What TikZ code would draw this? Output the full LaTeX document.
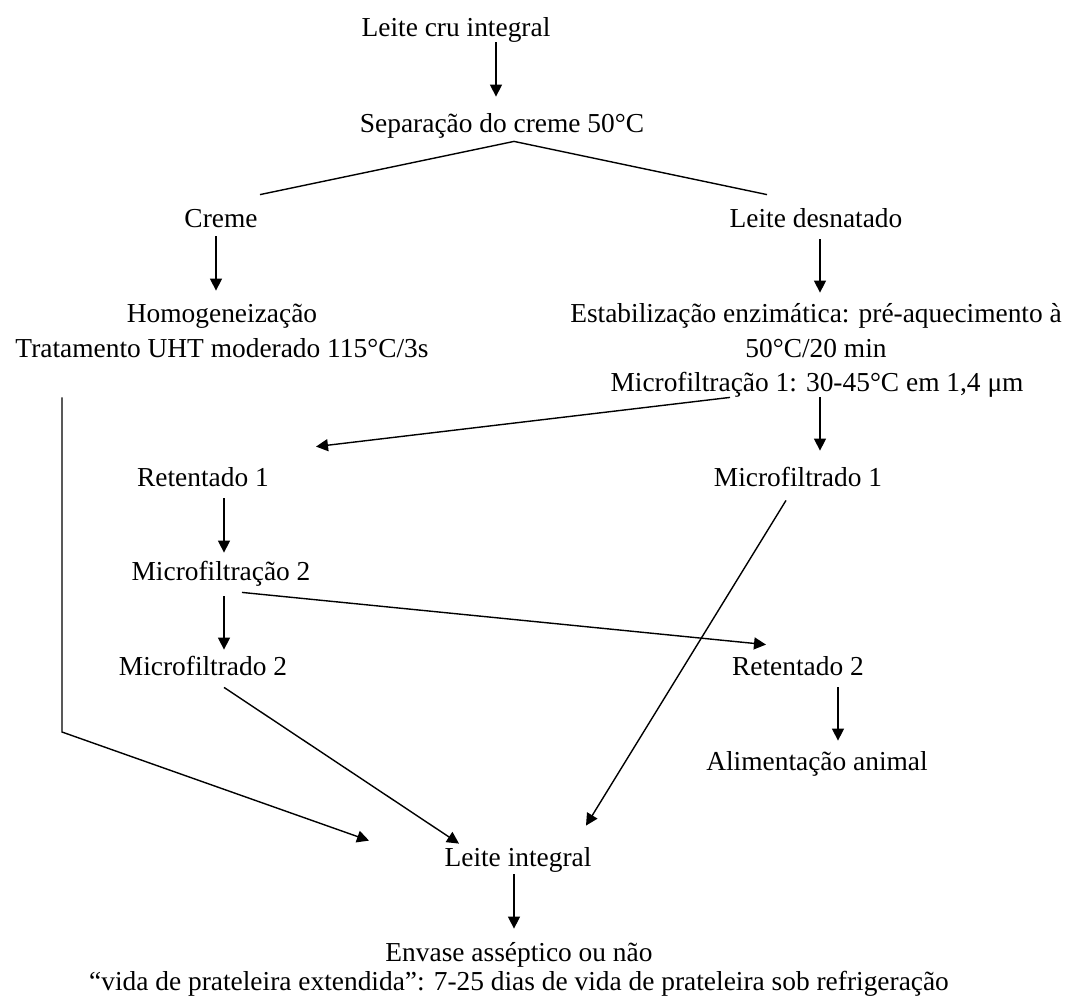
\documentclass[tikz,border=0pt]{standalone}
\usepackage{fontspec}
\setmainfont{Liberation Serif}
\usetikzlibrary{arrows.meta}

\begin{document}
\begin{tikzpicture}[x=0.5pt, y=-0.5pt, font=\fontsize{13.7}{17.5}\selectfont,
  stage/.style={anchor=base, inner sep=0pt, text height=10pt, text depth=3pt},
  flow/.style={-{Triangle[length=6pt, width=6pt]}, line width=0.7pt},
  link/.style={line width=0.7pt}]
  \useasboundingbox (0,0) rectangle (1066,998);
  % stages, placed at their baselines
  \node[stage] (lci) at (456,36) {Leite cru integral};
  \node[stage] (sep) at (502,132) {Separação do creme 50°C};
  \node[stage] (creme) at (221,227) {Creme};
  \node[stage] (desn) at (816,227) {Leite desnatado};
  \node[stage] (homog) at (222,322) {Homogeneização};
  \node[stage] (uht) at (222,357) {Tratamento UHT moderado 115°C/3s};
  \node[stage] (estab) at (816,322) {Estabilização enzimática: pré-aquecimento à};
  \node[stage] (estabt) at (816,357) {50°C/20 min};
  \node[stage] (mfstep1) at (817,391) {Microfiltração 1: 30-45°C em 1,4 μm};
  \node[stage] (ret1) at (203,486) {Retentado 1};
  \node[stage] (mfd1) at (798,486) {Microfiltrado 1};
  \node[stage] (mfstep2) at (221,580) {Microfiltração 2};
  \node[stage] (mfd2) at (203,675) {Microfiltrado 2};
  \node[stage] (ret2) at (798,675) {Retentado 2};
  \node[stage] (ali) at (817,770) {Alimentação animal};
  \node[stage] (li) at (518,866) {Leite integral};
  \node[stage] (env) at (519,961) {Envase asséptico ou não};
  \node[stage] (vida) at (519,990) {“vida de prateleira extendida”: 7-25 dias de vida de prateleira sob refrigeração};
  \coordinate (bend) at (62,732);
  % connectors
  \draw[flow] ([xshift=20pt]lci.south) -- ([xshift=-3pt, yshift=7.5pt]sep.north);
  \draw[link] ([xshift=19.5pt, yshift=6pt]creme.north) -- ([xshift=6pt, yshift=-1.5pt]sep.south)
    -- ([xshift=-24.5pt, yshift=6pt]desn.north);
  \draw[flow] ([xshift=-2.5pt, yshift=-1.5pt]creme.south) -- ([xshift=-3pt, yshift=5.5pt]homog.north);
  \draw[flow] ([xshift=2pt, yshift=-3pt]desn.south) -- ([xshift=2pt, yshift=4.5pt]estab.north);
  \draw[flow] ([xshift=-43.5pt]mfstep1.south) -- ([xshift=56.5pt, yshift=9.5pt]ret1.north);
  \draw[flow] ([xshift=1.5pt]mfstep1.south) -- ([xshift=11pt, yshift=7.5pt]mfd1.north);
  \draw[flow] ([xshift=10.5pt, yshift=-3pt]ret1.south) -- ([xshift=1.5pt, yshift=3.5pt]mfstep2.north);
  \draw[flow] ([xshift=1.5pt, yshift=-5pt]mfstep2.south) -- ([xshift=10.5pt, yshift=2.5pt]mfd2.north);
  \draw[flow] ([xshift=10.5pt, yshift=-3pt]mfstep2.south) -- ([xshift=-16pt, yshift=5pt]ret2.north);
  \draw[flow] ([xshift=20pt, yshift=-3pt]ret2.south) -- ([xshift=10.5pt, yshift=4.5pt]ali.north);
  \draw[flow] ([xshift=-6pt, yshift=-4pt]mfd1.south) -- ([xshift=34pt, yshift=10pt]li.north);
  \draw[flow] ([xshift=10.5pt, yshift=-3pt]mfd2.south) -- ([xshift=-29.5pt, yshift=1pt]li.north);
  \draw[flow] ([xshift=-80pt, yshift=-17pt]uht.south) -- (bend) -- ([xshift=-74.5pt, yshift=2.5pt]li.north);
  \draw[flow] ([xshift=-2pt, yshift=-1pt]li.south) -- ([xshift=-2.5pt, yshift=6pt]env.north);
\end{tikzpicture}
\end{document}
